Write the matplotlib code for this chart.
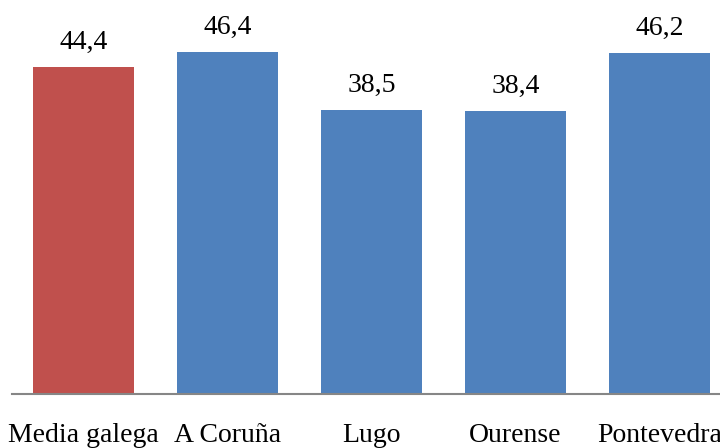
import matplotlib.pyplot as plt
import numpy as np

categories = ['Media galega', 'A Coruña', 'Lugo', 'Ourense', 'Pontevedra']
values = [44.4, 46.4, 38.5, 38.4, 46.2]
value_labels = ['44,4', '46,4', '38,5', '38,4', '46,2']
colors = ['#C0504D', '#4F81BD', '#4F81BD', '#4F81BD', '#4F81BD']

plt.rcParams['font.family'] = ['Liberation Serif', 'DejaVu Serif']

fig = plt.figure(figsize=(7.2, 4.48), dpi=100)
# axis spans 5 slots of 144 px starting at x=11.5, baseline at y=394
ax = fig.add_axes([11.5 / 720, 54 / 448, 720 / 720, 368.6 / 448])

x = np.arange(len(categories))
bars = ax.bar(x, values, width=0.70, color=colors, zorder=2)

ax.set_xlim(-0.5, 4.5)
ax.set_ylim(0, 50)

for b, lab in zip(bars, value_labels):
    ax.annotate(lab, (b.get_x() + b.get_width() / 2, b.get_height()),
                xytext=(0, 13), textcoords='offset points',
                ha='center', va='baseline', fontsize=20, color='black',
                annotation_clip=False)

ax.set_xticks(x)
ax.set_xticklabels(categories, fontsize=20)
ax.tick_params(axis='x', length=0, pad=21)
ax.set_yticks([])

for s in ['top', 'right', 'left']:
    ax.spines[s].set_visible(False)
ax.spines['bottom'].set_color('#868686')
ax.spines['bottom'].set_linewidth(1.5)

fig.savefig('out.png', dpi=100)
